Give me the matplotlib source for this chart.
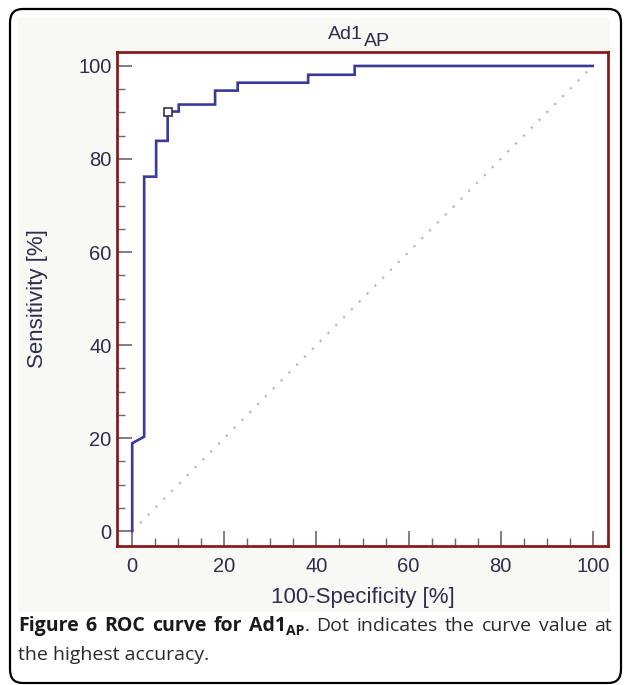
import matplotlib
matplotlib.use("Agg")
import matplotlib.pyplot as plt
from matplotlib.patches import FancyBboxPatch, Rectangle
from matplotlib.ticker import MultipleLocator

# ---- data ----
fpr = [0, 0, 2.6, 2.6, 5.2, 5.2, 7.7, 7.7, 10.1, 10.1, 18.0, 18.0,
       22.9, 22.9, 38.2, 38.2, 48.3, 48.3, 100]
tpr = [0, 18.9, 20.3, 76.2, 76.2, 83.9, 83.9, 90.2, 90.2, 91.7, 91.7, 94.7,
       94.7, 96.4, 96.4, 98.1, 98.1, 100, 100]
best_x = [7.7]
best_y = [90.2]
diag_x = [0, 100]
diag_y = [0, 100]
ticks = [0, 20, 40, 60, 80, 100]

W, H = 627, 685
fig = plt.figure(figsize=(W / 100, H / 100), dpi=100)
fig.patch.set_facecolor("white")

def fx(px):
    return px / W

def fy(py):
    return 1 - py / H

TXT = "#2e2e4e"

# light panel behind the chart
fig.patches.append(Rectangle((fx(18), fy(612)), fx(610) - fx(18), fy(18) - fy(612),
                             transform=fig.transFigure, facecolor="#f8f8f5",
                             edgecolor="none", zorder=-1))
# outer rounded frame
fig.patches.append(FancyBboxPatch((fx(10), fy(683)), fx(621) - fx(10), fy(9) - fy(683),
                                  boxstyle="round,pad=0,rounding_size=0.02",
                                  transform=fig.transFigure, facecolor="none",
                                  edgecolor="black", linewidth=1.6, zorder=5))

ax = fig.add_axes([fx(117), fy(546), fx(608) - fx(117), fy(52) - fy(546)])
ax.set_zorder(2)
ax.set_facecolor("white")
ax.set_xlim(-3.3, 103.3)
ax.set_ylim(-3.2, 103.0)

ax.plot(diag_x, diag_y, color="#b8b8b8", linestyle=(0, (1, 4)), linewidth=1.6,
        zorder=2)
ax.plot(fpr, tpr, color="#3a3a9c", linewidth=1.9, solid_joinstyle="miter",
        zorder=3)
ax.plot(best_x, best_y, marker="s", markersize=5.5, markerfacecolor="white",
        markeredgecolor="#333355", markeredgewidth=1.2, linestyle="none", zorder=4)

for s in ax.spines.values():
    s.set_color("#8b1c1c")
    s.set_linewidth(2)

ax.set_xticks(ticks)
ax.set_yticks(ticks)
ax.xaxis.set_minor_locator(MultipleLocator(5))
ax.yaxis.set_minor_locator(MultipleLocator(5))
ax.tick_params(which="major", direction="in", length=10.5, width=1.2,
               color="#7a6262", labelsize=14.5, labelcolor=TXT)
ax.tick_params(which="minor", direction="in", length=5.5, width=1.0,
               color="#7a6262")
ax.tick_params(axis="x", which="major", pad=8)
ax.tick_params(axis="y", which="major", pad=4)
for lab in ax.get_xticklabels() + ax.get_yticklabels():
    lab.set_fontfamily("Liberation Sans")

ax.set_xlabel("100-Specificity [%]", fontsize=16, color=TXT,
              fontfamily="Liberation Sans")
ax.xaxis.label.set_va("center")
ax.xaxis.set_label_coords(0.5, (546 - 598) / 494)
ax.set_ylabel("Sensitivity [%]", fontsize=16, color=TXT,
              fontfamily="Liberation Sans")
ax.yaxis.label.set_va("center")
ax.yaxis.set_label_coords((38 - 117) / 491, 0.5)

# title "Ad1" with subscript "AP"
fig.canvas.draw()
renderer = fig.canvas.get_renderer()
t1 = fig.text(fx(328), fy(39), "Ad1", fontsize=14, color=TXT,
              fontfamily="Liberation Sans", ha="left", va="baseline")
w1 = t1.get_window_extent(renderer).width
fig.text(fx(328 + w1 + 1), fy(46), "AP", fontsize=14, color=TXT,
         fontfamily="Liberation Sans", ha="left", va="baseline")

# ---- caption ----
cs = 14.0
B = "bold"
N = "normal"
# each word is a list of (text, fontsize, weight, baseline offset px)
words1 = [[("Figure", cs, B, 0)], [("6", cs, B, 0)], [("ROC", cs, B, 0)],
          [("curve", cs, B, 0)], [("for", cs, B, 0)],
          [("Ad1", cs, B, 0), ("AP", cs * 0.72, B, 4), (".", cs, N, 0)],
          [("Dot", cs, N, 0)], [("indicates", cs, N, 0)], [("the", cs, N, 0)],
          [("curve", cs, N, 0)], [("value", cs, N, 0)], [("at", cs, N, 0)]]

def colour(fw):
    return "#1a1a1a" if fw == B else "#2a2a2a"

def draw_word(x, base, parts):
    for s, fs, fw, dy in parts:
        t = fig.text(fx(x), fy(base + dy), s, fontsize=fs, fontweight=fw,
                     color=colour(fw), fontfamily="Open Sans",
                     ha="left", va="baseline")
        x += t.get_window_extent(renderer).width
    return x

def measure(parts):
    w = 0
    for s, fs, fw, dy in parts:
        t = fig.text(0, 0, s, fontsize=fs, fontweight=fw, fontfamily="Open Sans")
        w += t.get_window_extent(renderer).width
        t.remove()
    return w

widths = [measure(p) for p in words1]
gap = ((612 - 18) - sum(widths)) / (len(words1) - 1)
x = 18
for p, w in zip(words1, widths):
    draw_word(x, 631, p)
    x += w + gap
draw_word(18, 660, [("the highest accuracy.", cs, N, 0)])

fig.savefig("out.png", dpi=100, facecolor="white")
